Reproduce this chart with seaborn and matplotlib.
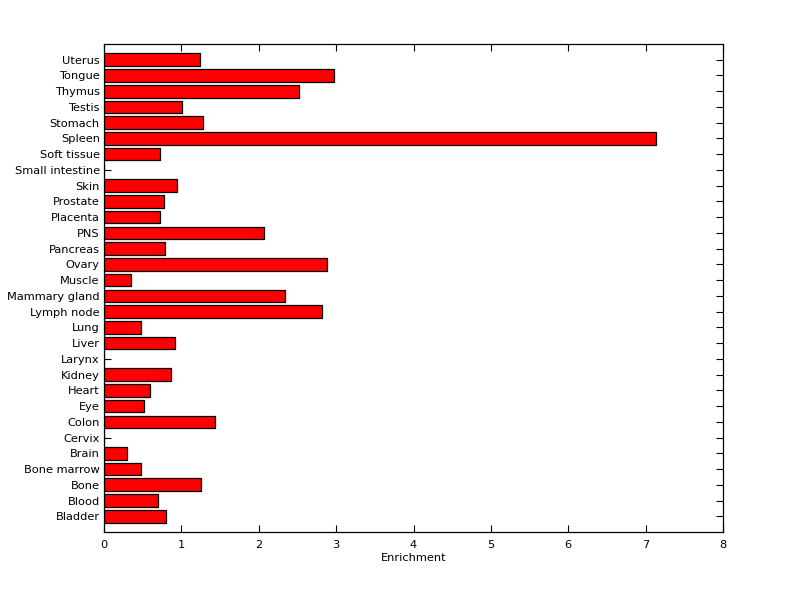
import matplotlib
matplotlib.use("Agg")
import matplotlib.pyplot as plt
import seaborn as sns
import pandas as pd

tissues = ["Uterus", "Tongue", "Thymus", "Testis", "Stomach", "Spleen", "Soft tissue",
           "Small intestine", "Skin", "Prostate", "Placenta", "PNS", "Pancreas", "Ovary",
           "Muscle", "Mammary gland", "Lymph node", "Lung", "Liver", "Larynx", "Kidney",
           "Heart", "Eye", "Colon", "Cervix", "Brain", "Bone marrow", "Bone", "Blood", "Bladder"]
enrichment = [1.236, 2.967, 2.515, 1.003, 1.275, 7.128, 0.719,
              0.0, 0.939, 0.771, 0.719, 2.063, 0.784, 2.877,
              0.345, 2.334, 2.812, 0.474, 0.913, 0.0, 0.861,
              0.590, 0.513, 1.430, 0.0, 0.293, 0.474, 1.249, 0.694, 0.797]
xticks = [0, 1, 2, 3, 4, 5, 6, 7, 8]

sns.set_style("white")
plt.rcParams['font.family'] = ['DejaVu Sans']
plt.rcParams['text.color'] = 'black'
plt.rcParams['xtick.color'] = 'black'
plt.rcParams['ytick.color'] = 'black'
plt.rcParams['axes.labelcolor'] = 'black'

df = pd.DataFrame({"tissue": tissues, "value": enrichment})

fig = plt.figure(figsize=(8.0, 5.99), dpi=100)
ax = fig.add_axes([104/800, 1-532/599, (723-104)/800, (532-44)/599])
sns.barplot(data=df, x="value", y="tissue", order=tissues, orient="h",
            color="#ff0000", saturation=1, edgecolor="black", linewidth=0.9,
            width=0.8, ax=ax)
ax.set_xlim(0, 8)
ax.set_ylim(len(tissues), -1)
ax.set_xticks(xticks)
ax.set_xticklabels([str(t) for t in xticks])
ax.set_xlabel("Enrichment", fontsize=8.2, labelpad=2)
ax.set_ylabel("")
ax.tick_params(axis="both", direction="in", length=5, width=0.8, color="black",
               labelsize=8.2, labelcolor="black", top=True, right=True,
               bottom=True, left=True)
ax.tick_params(axis="x", pad=6)
ax.tick_params(axis="y", pad=3)
for s in ax.spines.values():
    s.set_visible(True)
    s.set_color("black")
    s.set_linewidth(0.9)
fig.savefig("out.png", dpi=100, facecolor="white")
